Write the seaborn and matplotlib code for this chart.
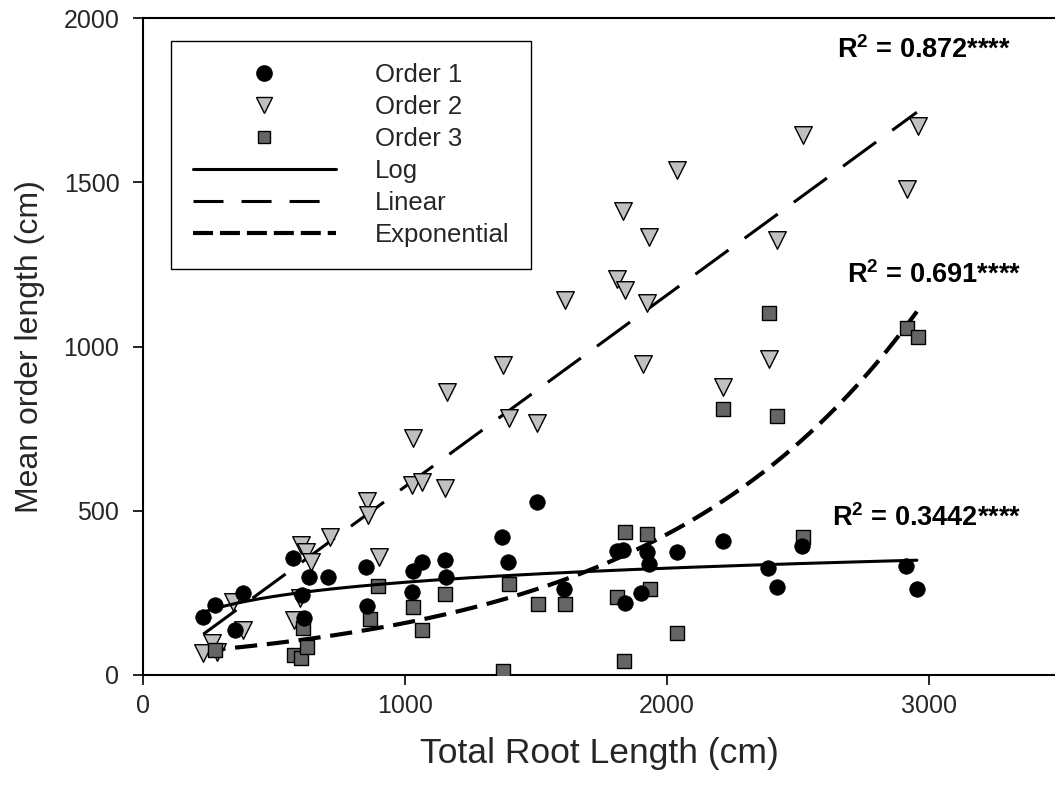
import numpy as np
import pandas as pd
import matplotlib
matplotlib.use("Agg")
import matplotlib.pyplot as plt
import seaborn as sns
from matplotlib.lines import Line2D

# ---------------- data ----------------
order1_x = [230, 275, 351, 380, 574, 605, 615, 635, 707, 851, 856, 1025, 1029, 1063,
            1153, 1157, 1369, 1394, 1502, 1608, 1808, 1833, 1838, 1901, 1922, 1929,
            2037, 2212, 2384, 2418, 2514, 2911, 2953]
order1_y = [177, 213, 137, 250, 355, 243, 173, 297, 299, 328, 210, 254, 317, 345,
            350, 299, 421, 345, 528, 261, 378, 380, 220, 249, 375, 338,
            375, 408, 325, 267, 393, 332, 261]

order2_x = [229, 262, 281, 345, 383, 576, 599, 602, 622, 641, 714, 856, 860, 902,
            1025, 1032, 1063, 1153, 1159, 1375, 1398, 1505, 1611, 1810, 1833, 1840,
            1906, 1925, 1931, 2039, 2215, 2387, 2421, 2518, 2915, 2959]
order2_y = [66, 96, 71, 223, 137, 167, 234, 396, 375, 345, 421, 531, 487, 358,
            578, 720, 588, 568, 862, 944, 781, 766, 1142, 1205, 1413, 1172,
            947, 1131, 1334, 1537, 876, 961, 1324, 1644, 1479, 1671]

order3_x = [275, 576, 602, 609, 624, 866, 898, 1029, 1063, 1153, 1373, 1397, 1506,
            1612, 1810, 1834, 1840, 1925, 1933, 2039, 2215, 2387, 2421, 2518, 2917, 2959]
order3_y = [75, 61, 51, 142, 86, 170, 271, 206, 137, 247, 13, 276, 215,
            215, 236, 43, 436, 428, 262, 129, 810, 1103, 788, 421, 1055, 1028]

# fitted models (coefficients)
log_a, log_b = -146.0, 62.0          # y = a + b ln(x)   (Order 1)
lin_a, lin_b = -10.0, 0.5835         # y = a + b x       (Order 2)
exp_a, exp_b = 58.6, 0.000995        # y = a exp(b x)    (Order 3)
fit_start, fit_end = 230, 2953

r2_labels = ["0.872****", "0.691****", "0.3442****"]

x_ticks = [0, 1000, 2000, 3000]
y_ticks = [0, 500, 1000, 1500, 2000]

# ---------------- style ----------------
sns.set_theme(style="ticks")
plt.rcParams['font.family'] = ['Liberation Sans', 'DejaVu Sans']
plt.rcParams['mathtext.fontset'] = 'custom'
plt.rcParams['mathtext.rm'] = 'Liberation Sans'
plt.rcParams['mathtext.bf'] = 'Liberation Sans:bold'
plt.rcParams['lines.scale_dashes'] = False

fig = plt.figure(figsize=(10.55, 7.89), dpi=100)
ax = fig.add_axes([143 / 1055, 1 - 675 / 789, 1 - 143 / 1055, (675 - 18) / 789])

# fits
xs = np.linspace(fit_start, fit_end, 300)
fits = pd.DataFrame({
    "x": xs,
    "log": log_a + log_b * np.log(xs),
    "lin": lin_a + lin_b * xs,
    "exp": exp_a * np.exp(exp_b * xs),
})
sns.lineplot(data=fits, x="x", y="lin", ax=ax, color="black", lw=2.2,
             linestyle=(0, (29.5, 14.4)), zorder=2)
sns.lineplot(data=fits, x="x", y="exp", ax=ax, color="black", lw=3.0,
             linestyle=(0, (16, 7)), zorder=2)

# points
df1 = pd.DataFrame({"x": order1_x, "y": order1_y})
df2 = pd.DataFrame({"x": order2_x, "y": order2_y})
df3 = pd.DataFrame({"x": order3_x, "y": order3_y})
sns.scatterplot(data=df2, x="x", y="y", ax=ax, marker="v", s=160, color="#c0c0c0",
                edgecolor="black", linewidth=1.0, zorder=3)
sns.scatterplot(data=df3, x="x", y="y", ax=ax, marker="s", s=110, color="#656565",
                edgecolor="black", linewidth=1.0, zorder=3)
sns.scatterplot(data=df1, x="x", y="y", ax=ax, marker="o", s=125, color="black",
                edgecolor="black", linewidth=0.5, zorder=4)
sns.lineplot(data=fits, x="x", y="log", ax=ax, color="black", lw=2.2, zorder=5)

# R^2 annotations
r2_pos = [(2650, 1903), (2687, 1216), (2630, 478)]
for lab, (tx, ty) in zip(r2_labels, r2_pos):
    ax.text(tx, ty, r"$\mathbf{R^{2}}$ = " + lab, fontsize=19.5, fontweight="bold",
            ha="left", va="center", color="black")

# axes
ax.set_xlim(0, 3480)
ax.set_ylim(0, 2000)
ax.set_xticks(x_ticks)
ax.set_yticks(y_ticks)
ax.set_xlabel("Total Root Length (cm)", fontsize=25.5, labelpad=13)
ax.set_ylabel("Mean order length (cm)", fontsize=23, labelpad=13)
ax.tick_params(axis="both", labelsize=18, length=7, width=1.2, color="black",
               direction="out")
ax.tick_params(axis="x", pad=7)
ax.tick_params(axis="y", pad=10)
for side in ["left", "bottom", "top"]:
    ax.spines[side].set_visible(True)
    ax.spines[side].set_color("black")
    ax.spines[side].set_linewidth(1.5)
ax.spines["right"].set_visible(False)

# legend
handles = [
    Line2D([], [], ls="none", marker="o", ms=11, mfc="black", mec="black"),
    Line2D([], [], ls="none", marker="v", ms=11, mfc="#c0c0c0", mec="black", mew=1.0),
    Line2D([], [], ls="none", marker="s", ms=9, mfc="#656565", mec="black", mew=1.0),
    Line2D([], [], color="black", lw=2.2),
    Line2D([], [], color="black", lw=2.2, linestyle=(0, (21.6, 13))),
    Line2D([], [], color="black", lw=3.0, linestyle=(0, (14.4, 5))),
]
labels = ["Order 1", "Order 2", "Order 3", "Log", "Linear", "Exponential"]
leg = ax.legend(handles, labels, loc="upper left",
                bbox_to_anchor=(171 / 1055, 1 - 41 / 789), bbox_transform=fig.transFigure,
                borderaxespad=0, fontsize=18.5, handlelength=5.56, handletextpad=1.52,
                labelspacing=0.31, borderpad=0.85, numpoints=1, fancybox=False,
                framealpha=1, edgecolor="black")
leg.get_frame().set_linewidth(1.0)

fig.savefig("out.png", dpi=100)
